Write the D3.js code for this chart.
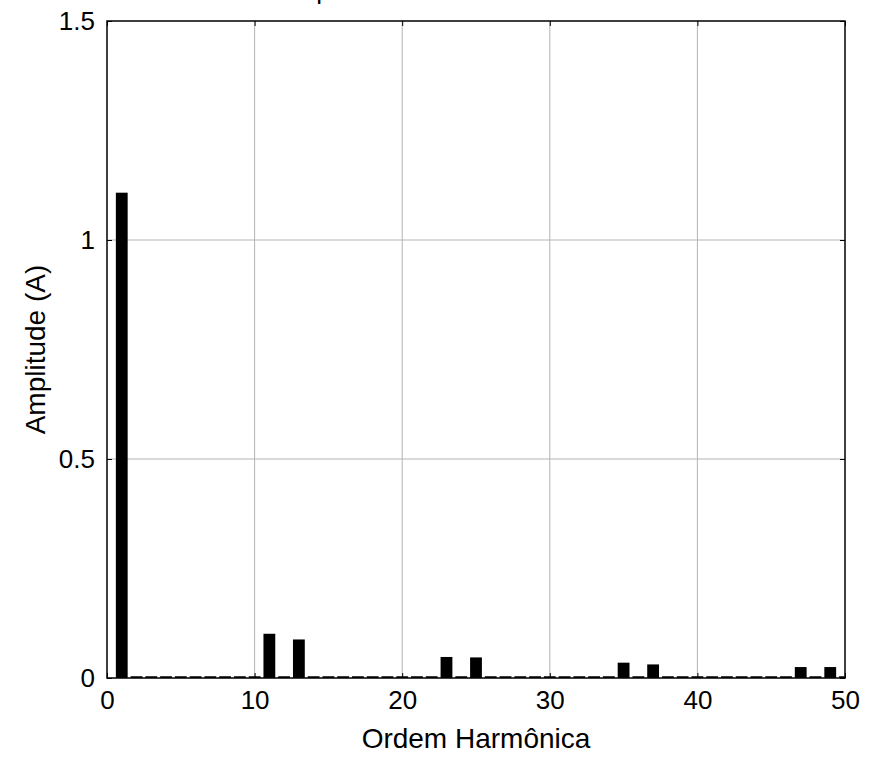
<!DOCTYPE html>
<html><head><meta charset="utf-8">
<script src="https://cdn.jsdelivr.net/npm/d3@7"></script>
<style>body{margin:0;background:#fff}svg{display:block}text{font-family:"Liberation Sans",Arial,sans-serif;fill:#000}</style>
</head><body><svg id="c" width="872" height="758"></svg>
<script>
const harmonics = d3.range(1, 51);
const amplitudes = [1.108,0.004,0.004,0.004,0.004,0.004,0.004,0.004,0.004,0.004,
  0.101,0.004,0.088,0.004,0.004,0.004,0.004,0.004,0.004,0.004,
  0.004,0.004,0.048,0.004,0.047,0.004,0.004,0.004,0.004,0.004,
  0.004,0.004,0.004,0.004,0.035,0.004,0.031,0.004,0.004,0.004,
  0.004,0.004,0.004,0.004,0.004,0.004,0.025,0.004,0.025,0.004];
const xTicks = [0,10,20,30,40,50];
const yTicks = [0,0.5,1,1.5];
const yTickLabels = ["0","0.5","1","1.5"];
const xLabel = "Ordem Harmônica";
const yLabel = "Amplitude (A)";
const title = "Espectro Harmônico da Corrente";

const svg = d3.select("#c");
const m = {l:107, r:845, t:21, b:678};
const x = d3.scaleLinear().domain([0,50]).range([m.l,m.r]);
const y = d3.scaleLinear().domain([0,1.5]).range([m.b,m.t]);
const bw = x(0.8)-x(0);

svg.append("clipPath").attr("id","clip").append("rect")
  .attr("x",m.l).attr("y",m.t).attr("width",m.r-m.l).attr("height",m.b-m.t);

// grid
const g = svg.append("g");
g.selectAll(".gx").data(xTicks.slice(1,-1)).join("line")
  .attr("x1",d=>x(d)).attr("x2",d=>x(d)).attr("y1",m.t).attr("y2",m.b)
  .attr("stroke","#b4b4b4").attr("stroke-width",1);
g.selectAll(".gy").data(yTicks.slice(1,-1)).join("line")
  .attr("x1",m.l).attr("x2",m.r).attr("y1",d=>y(d)).attr("y2",d=>y(d))
  .attr("stroke","#b4b4b4").attr("stroke-width",1);

// bars
svg.append("g").attr("clip-path","url(#clip)").selectAll("rect")
  .data(harmonics.map((h,i)=>({h,v:amplitudes[i]}))).join("rect")
  .attr("x",d=>x(d.h)-bw/2).attr("width",bw)
  .attr("y",d=>y(d.v)).attr("height",d=>y(0)-y(d.v))
  .attr("fill","#000");

// axes with inward ticks
const tl = 5;
const axB = svg.append("g").attr("transform",`translate(0,${m.b})`)
  .call(d3.axisBottom(x).tickValues(xTicks).tickSize(-tl).tickPadding(13).tickFormat(d3.format("d")));
const axT = svg.append("g").attr("transform",`translate(0,${m.t})`)
  .call(d3.axisTop(x).tickValues(xTicks).tickSize(-tl).tickFormat(""));
const axL = svg.append("g").attr("transform",`translate(${m.l},0)`)
  .call(d3.axisLeft(y).tickValues(yTicks).tickSize(-tl).tickPadding(12).tickFormat((d,i)=>yTickLabels[i]));
const axR = svg.append("g").attr("transform",`translate(${m.r},0)`)
  .call(d3.axisRight(y).tickValues(yTicks).tickSize(-tl).tickFormat(""));
[axB,axT,axL,axR].forEach(a=>{
  a.select(".domain").remove();
  a.selectAll(".tick line").attr("stroke","#000").attr("stroke-width",1);
  a.selectAll("text").style("font-size","26px").attr("fill","#000");
});
axB.selectAll("text").attr("dy","0.71em");

// frame
svg.append("rect").attr("x",m.l).attr("y",m.t).attr("width",m.r-m.l).attr("height",m.b-m.t)
  .attr("fill","none").attr("stroke","#000").attr("stroke-width",1.5);

// labels
svg.append("text").attr("x",(m.l+m.r)/2).attr("y",748).attr("text-anchor","middle")
  .style("font-size","28px").text(xLabel);
svg.append("text").attr("transform",`translate(45,${(m.t+m.b)/2}) rotate(-90)`)
  .attr("text-anchor","middle").style("font-size","28px").text(yLabel);
svg.append("text").attr("x",(m.l+m.r)/2).attr("y",-1).attr("text-anchor","middle")
  .style("font-size","26px").text(title);
</script></body></html>
